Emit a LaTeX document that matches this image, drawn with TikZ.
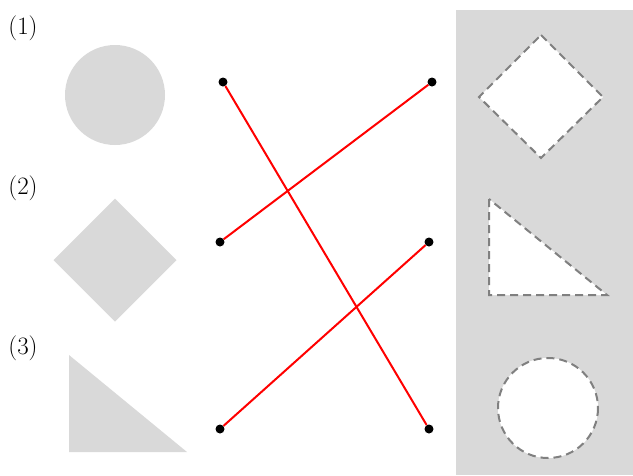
\documentclass[tikz,border=0pt]{standalone}
\usepackage{xcolor}
\usetikzlibrary{shapes,positioning,calc}
\definecolor{shapegray}{HTML}{D9D9D9}
\definecolor{dashgray}{HTML}{808080}

\begin{document}
\begin{tikzpicture}[
  x=1pt, y=-1pt,
  label/.style={font=\fontsize{25}{30}\selectfont, inner sep=0pt},
  dot/.style={circle, fill=black, inner sep=0pt, minimum size=9pt},
  match/.style={red, line width=2pt},
  outline/.style={draw=dashgray, fill=white, line width=2pt, dash pattern=on 8pt off 5pt}
]
  \useasboundingbox (0,0) rectangle (633,475);

  % Right panel
  \fill[shapegray] (456,10) rectangle (633,475);

  % Labels
  \node[label] (lab1) at (23,28) {(1)};
  \node[label] (lab2) at (23,188) {(2)};
  \node[label] (lab3) at (23,348) {(3)};

  % Filled shapes
  \fill[shapegray] (115,95) circle (50);
  \fill[shapegray] (115,198.5) -- (176.5,260) -- (115,321.5) -- (53.5,260) -- cycle;
  \fill[shapegray] (69,355) -- (69,452) -- (187,452) -- cycle;

  % Dashed outlines
  \draw[outline] (541,35) -- (603,97) -- (541,158) -- (479,97) -- cycle;
  \draw[outline] (489,199) -- (489,295) -- (607,295) -- cycle;
  \draw[outline] (548,408) circle (50);

  % Dots
  \node[dot] (l1) at (223,82) {};
  \node[dot] (l2) at (220,242) {};
  \node[dot] (l3) at (220,429) {};
  \node[dot] (r1) at (432,82) {};
  \node[dot] (r2) at (429,242) {};
  \node[dot] (r3) at (429,429) {};

  % Matches
  \draw[match] (l1) -- (r3);
  \draw[match] (l2) -- (r1);
  \draw[match] (l3) -- (r2);
\end{tikzpicture}
\end{document}
